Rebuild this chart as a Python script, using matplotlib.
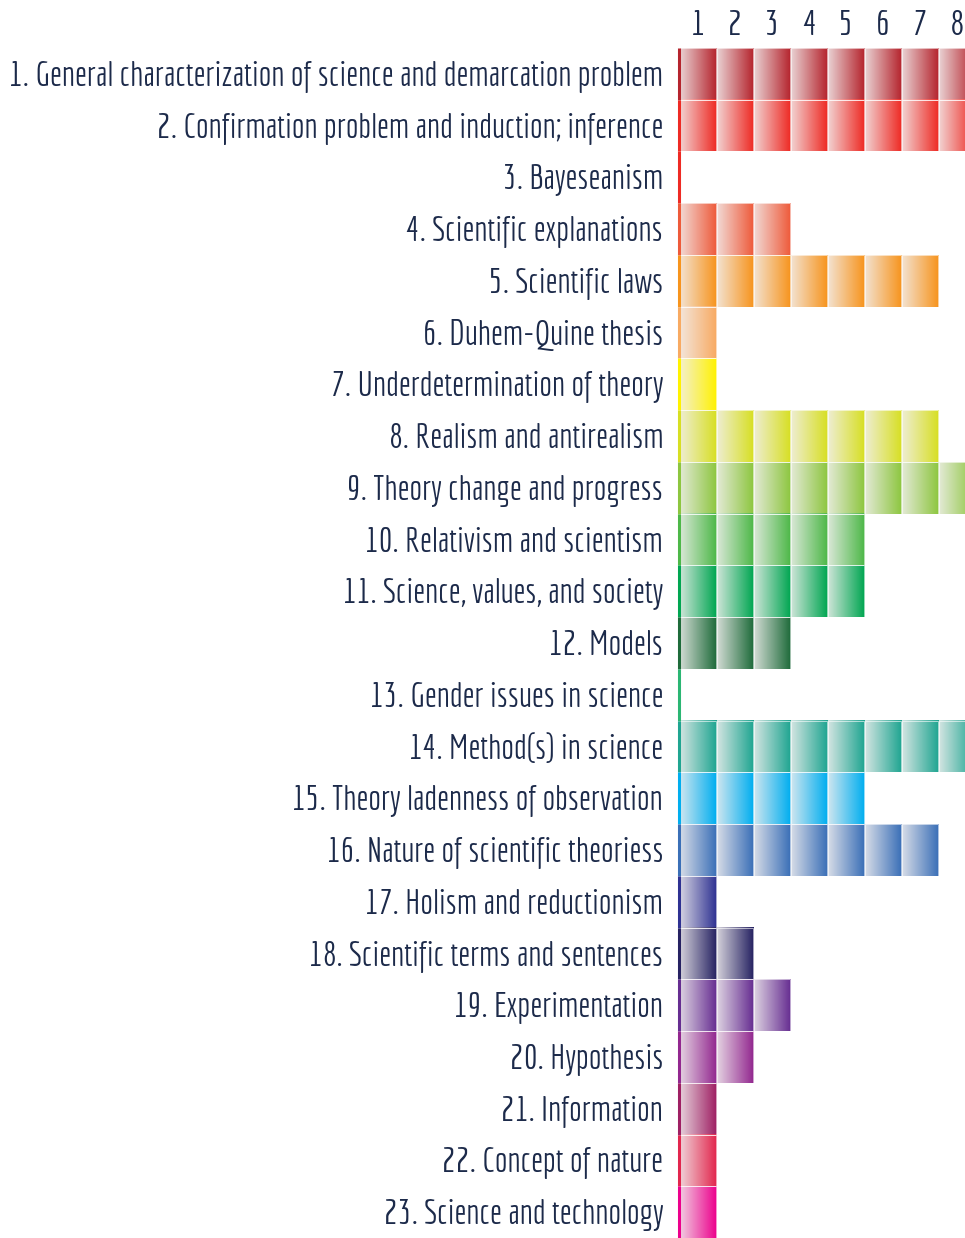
import numpy as np
import matplotlib
matplotlib.use("Agg")
import matplotlib.pyplot as plt
from matplotlib import font_manager
from matplotlib.colors import to_rgb

# topics and how many columns each one fills
topics = [
    "1. General characterization of science and demarcation problem",
    "2. Confirmation problem and induction; inference",
    "3. Bayeseanism",
    "4. Scientific explanations",
    "5. Scientific laws",
    "6. Duhem-Quine thesis",
    "7. Underdetermination of theory",
    "8. Realism and antirealism",
    "9. Theory change and progress",
    "10. Relativism and scientism",
    "11. Science, values, and society",
    "12. Models",
    "13. Gender issues in science",
    "14. Method(s) in science",
    "15. Theory ladenness of observation",
    "16. Nature of scientific theoriess",
    "17. Holism and reductionism",
    "18. Scientific terms and sentences",
    "19. Experimentation",
    "20. Hypothesis",
    "21. Information",
    "22. Concept of nature",
    "23. Science and technology",
]
counts = [8, 8, 0, 3, 7, 1, 1, 7, 8, 5, 5, 3, 0, 8, 5, 7, 1, 2, 3, 2, 1, 1, 1]
columns = [1, 2, 3, 4, 5, 6, 7, 8]

row_colors = [
    "#b5242d", "#ee2a24", "#ee2a24", "#ee5a3a", "#f7941d", "#f8aa62",
    "#fff200", "#d7df23", "#8dc63f", "#4db848", "#00a651", "#1e6b3a",
    "#2bb673", "#1fa591", "#00aeef", "#3a6fb7", "#2e3192", "#262262",
    "#662d91", "#92278f", "#9e1f63", "#e2264d", "#ec008c",
]

available = {f.name for f in font_manager.fontManager.ttflist}
font = "Economica" if "Economica" in available else "DejaVu Sans"
text_color = "#1c2a4a"

W, H = 965, 1238
fig = plt.figure(figsize=(W / 100, H / 100), dpi=100)

left_px, top_px, colw = 678, 48, 36.9
ax = fig.add_axes([left_px / W, 0, (W - left_px) / W, (H - top_px) / H])
ax.set_xlim(0, (W - left_px) / colw)
ax.set_ylim(len(topics), 0)
ax.axis("off")

for i, (n, c) in enumerate(zip(counts, row_colors)):
    rgb = np.array(to_rgb(c))
    t = np.linspace(0, 1, 64)[:, None]
    start = 0.15 * rgb + 0.85 * np.array([0.95, 0.94, 0.94])
    grad = (start * (1 - t) + rgb * t)[None, :, :]
    for j in range(n):
        ax.imshow(grad, extent=(j + 0.06, j + 1.04, i + 1, i), aspect="auto",
                  interpolation="bilinear", zorder=2)
        ax.add_patch(plt.Rectangle((j + 0.06, i), 0.98, 1, fill=False,
                                   edgecolor="white", lw=0.6, alpha=0.7, zorder=3))
    # colored axis segment
    ax.plot([0.03, 0.03], [i, i + 1], color=c, lw=2.2, solid_capstyle="butt",
            clip_on=False, zorder=4)
    ax.text(-0.4, i + 0.56, topics[i], ha="right", va="center", fontsize=24.2,
            family=font, color=text_color, clip_on=False)

for k in columns:
    ax.text(k - 0.45, -0.42, str(k), ha="center", va="center", fontsize=25,
            family=font, color=text_color, clip_on=False)

fig.savefig("out.png", dpi=100)
